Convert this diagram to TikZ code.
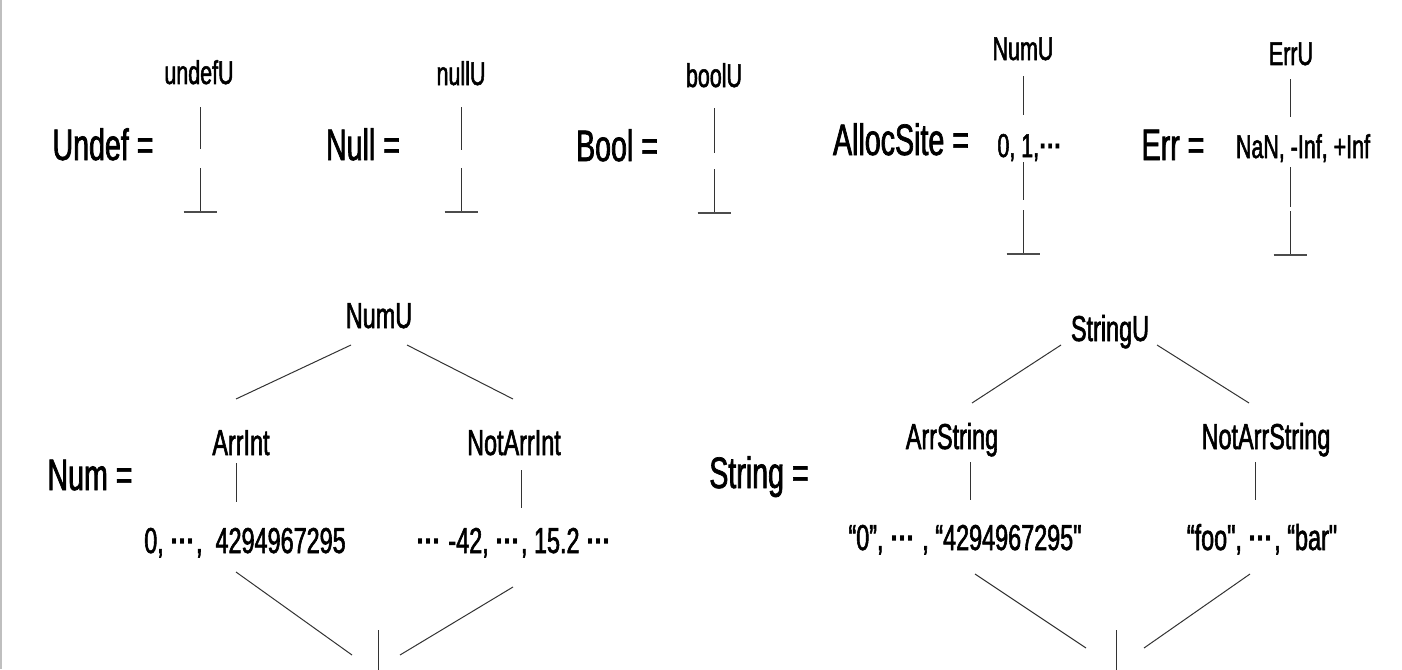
\documentclass[tikz,border=0pt]{standalone}
\usepackage{fontspec}
\setmainfont{Liberation Sans}[FakeStretch=0.65, FakeBold=1.6]
\newfontfamily\plainq{Liberation Sans}[FakeStretch=0.65, FakeBold=1.6]
\newfontfamily\dotfont{Liberation Sans Bold}[FakeStretch=0.8]
\usetikzlibrary{calc}
\tikzset{
  big/.style={font=\fontsize{44}{44}\selectfont, inner sep=0pt, anchor=base},
  lab/.style={font=\fontsize{33}{33}\selectfont, inner sep=0pt, anchor=base},
  low/.style={font=\fontsize{36}{36}\selectfont, inner sep=0pt, anchor=base},
  edge/.style={draw=black!80, line width=1pt},
  barline/.style={draw=black!70, line width=2pt},
  bottom/.pic={\draw[edge] (0,0) -- (0,-44); \draw[barline] (-16.5,0) -- (16.5,0);}
}
\newcommand\dd{{\dotfont\textperiodcentered\kern-1.5pt\textperiodcentered\kern-1.5pt\textperiodcentered}}
\newcommand\sq{{\plainq\symbol{"22}}}
\begin{document}
\begin{tikzpicture}[x=1pt,y=-1pt]
\useasboundingbox (0,0) rectangle (1402,669);
\draw[black!25, line width=1.5pt] (0.75,0) -- (0.75,669);

% ---------- top row ----------
\node[big] (undef) at (103,160) {Undef =};
\node[lab] (undefU) at (199,84) {undefU};
\coordinate (undefGap) at (200,149);
\draw[edge] ($(undefU.base)+(1,23)$) -- (undefGap);
\pic (undefBot) at (200,212) {bottom};

\node[big] (null) at (363,160) {Null =};
\node[lab] (nullU) at (461,85) {nullU};
\coordinate (nullGap) at (461,150);
\draw[edge] ($(nullU.base)+(0,22)$) -- (nullGap);
\pic (nullBot) at (461,212) {bottom};

\node[big] (bool) at (617,161) {Bool =};
\node[lab] (boolU) at (714,87) {boolU};
\coordinate (boolGap) at (714,153);
\draw[edge] ($(boolU.base)+(0,21)$) -- (boolGap);
\pic (boolBot) at (714,213) {bottom};

\node[big] (alloc) at (901,155) {AllocSite =};
\node[lab] (allocU) at (1023,60) {NumU};
\node[lab] (allocV) at (1030,157) {0, 1,\dd};
\coordinate (allocGap) at (1023,200);
\draw[edge] ($(allocU.base)+(0,16)$) -- ($(allocV.base)+(-7,-42)$);
\draw[edge] ($(allocV.base)+(-7,5)$) -- (allocGap);
\pic (allocBot) at (1023,254) {bottom};

\node[big] (err) at (1173,160) {Err =};
\node[lab] (errU) at (1291,65) {ErrU};
\node[lab] (errV) at (1303,158) {NaN, -Inf, +Inf};
\coordinate (errGap) at (1290,207);
\draw[edge] ($(errU.base)+(-1,14)$) -- ($(errV.base)+(-13,-41)$);
\draw[edge] ($(errV.base)+(-13,9)$) -- (errGap);
\pic (errBot) at (1290,255) {bottom};

% ---------- Num lattice ----------
\node[big] (num) at (90,490) {Num =};
\node[low] (numU) at (379,328) {NumU};
\node[low] (arrInt) at (241,455) {ArrInt};
\node[low] (notArrInt) at (514,455) {NotArrInt};
\node[low] (arrIntV) at (245,553) {0, \dd,\ \ 4294967295};
\node[low] (notArrIntV) at (514,553) {\dd\ -42, \dd, 15.2 \dd};
\coordinate (numBot) at (378,630);
\draw[edge] ($(numU.base)+(-28,17)$) -- ($(arrInt.base)+(-5,-56)$);
\draw[edge] ($(numU.base)+(28,17)$) -- ($(notArrInt.base)+(-1,-56)$);
\draw[edge] ($(arrInt.base)+(-5,8)$) -- ($(arrIntV.base)+(-9,-51)$);
\draw[edge] ($(notArrInt.base)+(7,15)$) -- ($(notArrIntV.base)+(7,-45)$);
\draw[edge] ($(arrIntV.base)+(-9,19)$) -- ($(numBot)+(-26,25)$);
\draw[edge] ($(notArrIntV.base)+(-1,34)$) -- ($(numBot)+(22,25)$);
\draw[edge] (numBot) -- ++(0,44);

% ---------- String lattice ----------
\node[big] (str) at (759,488) {String =};
\node[low] (strU) at (1110,341) {StringU};
\node[low] (arrStr) at (952,449) {ArrString};
\node[low] (notArrStr) at (1266,449) {NotArrString};
\node[low] (arrStrV) at (965,550) {“0”, \dd\ , “4294967295\sq};
\node[low] (notArrStrV) at (1262,550) {“foo\sq, \dd, “bar\sq};
\coordinate (strBot) at (1116,630);
\draw[edge] ($(strU.base)+(-49,4)$) -- ($(arrStr.base)+(20,-46)$);
\draw[edge] ($(strU.base)+(47,4)$) -- ($(notArrStr.base)+(-17,-46)$);
\draw[edge] ($(arrStr.base)+(18,13)$) -- ($(arrStrV.base)+(5,-50)$);
\draw[edge] ($(notArrStr.base)+(-11,13)$) -- ($(notArrStrV.base)+(-7,-50)$);
\draw[edge] ($(arrStrV.base)+(10,24)$) -- ($(strBot)+(-30,18)$);
\draw[edge] ($(notArrStrV.base)+(-12,24)$) -- ($(strBot)+(28,18)$);
\draw[edge] (strBot) -- ++(0,44);
\end{tikzpicture}
\end{document}
